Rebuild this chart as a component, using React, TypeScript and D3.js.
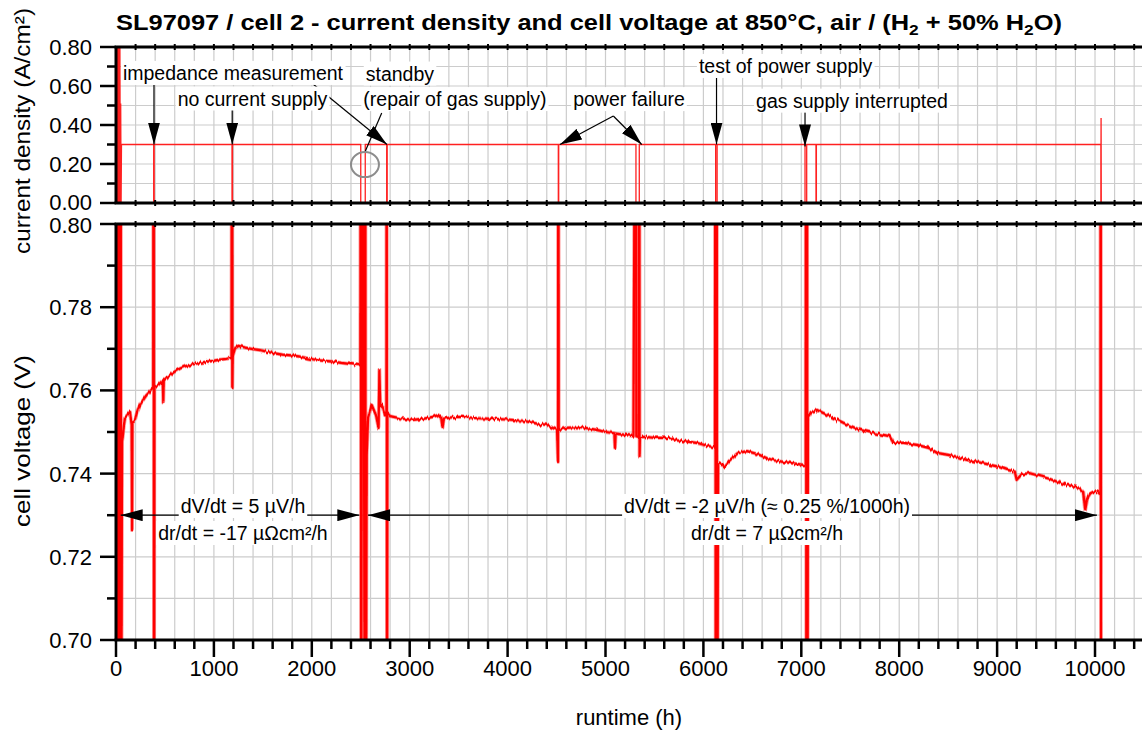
import React, { useEffect, useRef } from "react";
import * as d3 from "d3";

type Pt = [number, number];

// current density (A/cm²) against runtime (h); vertical drops are load interruptions
const currentDensity: Pt[] = [
  [14, 0], [16, 0.8], [20, 0], [24, 0.8], [28, 0], [32, 0.8], [36, 0], [40, 0.8], [44, 0], [48, 0.51], [52, 0], [56, 0.3],
  [385, 0.3], [385, 0], [390, 0], [390, 0.3],
  [1185, 0.3], [1185, 0], [1190, 0], [1190, 0.3],
  [2500, 0.3], [2500, 0], [2546, 0], [2546, 0.3],
  [2765, 0.3], [2765, 0], [2770, 0], [2770, 0.3],
  [4518, 0.3], [4518, 0], [4522, 0], [4522, 0.3],
  [5311, 0.3], [5311, 0], [5345, 0], [5345, 0.3],
  [6125, 0.3], [6125, 0], [6140, 0], [6140, 0.3],
  [7038, 0.3], [7038, 0], [7055, 0], [7055, 0.3],
  [7150, 0.3], [7150, 0], [7154, 0], [7154, 0.3],
  [10060, 0.3], [10060, 0], [10062, 0.436], [10064, 0],
];

// cell voltage (V) against runtime (h); values outside 0.70–0.80 are clipped by the panel
const cellVoltage: Pt[] = [
  [14, 0.65], [16, 0.9], [20, 0.65], [24, 0.9], [28, 0.65], [32, 0.9], [36, 0.65], [40, 0.9], [44, 0.65], [48, 0.9], [52, 0.65],
  [62, 0.748], [68, 0.7489], [80, 0.7515], [92, 0.7534], [120, 0.7542], [143, 0.7548], [160, 0.7517], [164, 0.7264], [168, 0.7525],
  [194, 0.7529], [220, 0.7552], [245, 0.7565], [280, 0.7578], [313, 0.7589], [350, 0.7598], [380, 0.7606],
  [385, 0.9], [388, 0.65], [392, 0.7608], [432, 0.7613], [478, 0.7624], [483, 0.7573], [488, 0.7624], [530, 0.7633],
  [586, 0.7643], [650, 0.7652], [722, 0.7659], [790, 0.7663], [858, 0.7666], [930, 0.7669], [994, 0.7671], [1060, 0.7674],
  [1130, 0.7676], [1180, 0.7678], [1185, 0.9], [1188, 0.7606], [1192, 0.7682], [1215, 0.7701], [1250, 0.7707],
  [1320, 0.7703], [1400, 0.7699], [1470, 0.7697], [1539, 0.7693], [1620, 0.7689], [1700, 0.7686], [1790, 0.7684],
  [1880, 0.7681], [1960, 0.7677], [2050, 0.7673], [2130, 0.7671], [2220, 0.7669], [2300, 0.7666], [2400, 0.7663],
  [2475, 0.7661], [2496, 0.766], [2500, 0.9], [2504, 0.65], [2520, 0.9], [2542, 0.65], [2546, 0.9], [2550, 0.65],
  [2561, 0.7445], [2575, 0.7535], [2612, 0.7565], [2656, 0.754], [2682, 0.751], [2690, 0.765], [2700, 0.756],
  [2717, 0.7565], [2748, 0.754], [2762, 0.7541], [2765, 0.9], [2768, 0.65], [2772, 0.7545],
  [2800, 0.7538], [2900, 0.7533], [3035, 0.7529], [3150, 0.7532], [3250, 0.7537], [3290, 0.7541], [3320, 0.7534],
  [3335, 0.751], [3350, 0.7532], [3450, 0.7536], [3545, 0.7536], [3700, 0.7533], [3890, 0.7531], [4000, 0.753],
  [4160, 0.7527], [4300, 0.752], [4400, 0.7517], [4505, 0.7505], [4515, 0.7428], [4518, 0.9], [4522, 0.7505],
  [4600, 0.751], [4740, 0.7512], [4910, 0.7505], [5000, 0.75], [5090, 0.7497], [5097, 0.7462], [5104, 0.7496],
  [5200, 0.7493], [5285, 0.749], [5311, 0.9], [5315, 0.749], [5340, 0.7488], [5345, 0.9], [5348, 0.744], [5352, 0.7488],
  [5420, 0.7488], [5500, 0.7486], [5660, 0.7486], [5730, 0.748], [5800, 0.7478], [5930, 0.7474], [6020, 0.7468],
  [6100, 0.7464], [6118, 0.7462], [6122, 0.9], [6126, 0.65], [6136, 0.9], [6140, 0.65], [6150, 0.7425],
  [6190, 0.7421], [6210, 0.7416], [6260, 0.743], [6350, 0.7449], [6445, 0.7454], [6550, 0.7447], [6650, 0.7437],
  [6720, 0.7432], [6815, 0.7428], [6900, 0.7425], [7020, 0.7421], [7045, 0.742], [7048, 0.9], [7052, 0.65],
  [7058, 0.9], [7062, 0.65], [7068, 0.7536], [7100, 0.7548], [7160, 0.7553], [7230, 0.7545], [7325, 0.7534],
  [7450, 0.752], [7600, 0.7505], [7720, 0.7498], [7835, 0.7493], [7900, 0.749], [7940, 0.7474], [8050, 0.7474],
  [8180, 0.7469], [8300, 0.7462], [8385, 0.745], [8500, 0.7445], [8600, 0.744], [8690, 0.7433], [8800, 0.7428],
  [8930, 0.7421], [9020, 0.7416], [9100, 0.7409], [9180, 0.7405], [9200, 0.7385], [9250, 0.7398], [9335, 0.7401],
  [9450, 0.7393], [9540, 0.7387], [9620, 0.738], [9710, 0.7373], [9800, 0.7368], [9845, 0.7365], [9880, 0.7355],
  [9900, 0.7312], [9920, 0.734], [9950, 0.7352], [9980, 0.7356], [10030, 0.7356], [10055, 0.735], [10058, 0.9],
  [10062, 0.65],
];

const runtimeTicks = [0, 1000, 2000, 3000, 4000, 5000, 6000, 7000, 8000, 9000, 10000];
const densityTicks = [0, 0.2, 0.4, 0.6, 0.8];
const voltageTicks = [0.7, 0.72, 0.74, 0.76, 0.78, 0.8];

const TITLE = "SL97097 / cell 2 - current density and cell voltage at 850°C, air / (H";
const FONT = "'Liberation Sans', Arial, Helvetica, sans-serif";

// event notes in the upper panel: text centre (runtime), baseline (current density)
const eventNotes = [
  { text: "impedance measurement", t: 1195, j: 0.631 },
  { text: "no current supply", t: 1394, j: 0.5 },
  { text: "standby", t: 2900, j: 0.628 },
  { text: "(repair of gas supply)", t: 3462, j: 0.497 },
  { text: "power failure", t: 5240, j: 0.497 },
  { text: "test of power supply", t: 6840, j: 0.667 },
  { text: "gas supply interrupted", t: 7518, j: 0.489 },
];

// arrows in the upper panel: from (t0, j0) to (t1, j1)
const eventArrows = [
  { t0: 388, j0: 0.605, t1: 388, j1: 0.3 },
  { t0: 1187, j0: 0.477, t1: 1187, j1: 0.3 },
  { t0: 2012, j0: 0.61, t1: 2768, j1: 0.3 },
  { t0: 5080, j0: 0.446, t1: 4535, j1: 0.3 },
  { t0: 5080, j0: 0.446, t1: 5370, j1: 0.3 },
  { t0: 6134, j0: 0.641, t1: 6134, j1: 0.3 },
  { t0: 7038, j0: 0.467, t1: 7038, j1: 0.29 },
];

// degradation ranges in the lower panel
const rateSpans = [
  { t0: 48, t1: 2485, mid: 1297, dv: "dV/dt = 5 µV/h", dr: "dr/dt = -17 µΩcm²/h" },
  { t0: 2574, t1: 10020, mid: 6650, dv: "dV/dt = -2 µV/h (≈ 0.25 %/1000h)", dr: "dr/dt = 7 µΩcm²/h" },
];

export default function App() {
  const ref = useRef<SVGSVGElement>(null);

  useEffect(() => {
    const svg = d3.select(ref.current);
    svg.selectAll("*").remove();

    const left = 116, right = 1142;
    const topY0 = 47, topY1 = 203, botY0 = 224, botY1 = 640;
    const x = d3.scaleLinear().domain([0, 10480]).range([left, right]);
    const yJ = d3.scaleLinear().domain([0, 0.8]).range([topY1, topY0]);
    const yV = d3.scaleLinear().domain([0.7, 0.8]).range([botY1, botY0]);

    const defs = svg.append("defs");
    defs.append("clipPath").attr("id", "clip-top").append("rect")
      .attr("x", left).attr("y", topY0).attr("width", right - left).attr("height", topY1 - topY0);
    defs.append("clipPath").attr("id", "clip-bot").append("rect")
      .attr("x", left).attr("y", botY0).attr("width", right - left).attr("height", botY1 - botY0);
    defs.append("marker").attr("id", "head").attr("viewBox", "0 0 22 12")
      .attr("refX", 22).attr("refY", 6).attr("markerWidth", 22).attr("markerHeight", 12)
      .attr("markerUnits", "userSpaceOnUse").attr("orient", "auto-start-reverse")
      .append("path").attr("d", "M0,0L22,6L0,12Z").attr("fill", "#000");

    // measurement jitter look for the voltage trace: vertical-only displacement
    const jitter = defs.append("filter").attr("id", "jitter")
      .attr("filterUnits", "userSpaceOnUse")
      .attr("x", left - 10).attr("y", botY0 - 10).attr("width", right - left + 20).attr("height", botY1 - botY0 + 20);
    jitter.append("feTurbulence").attr("type", "fractalNoise").attr("baseFrequency", "0.6 0.02")
      .attr("numOctaves", 2).attr("seed", 3).attr("result", "noise");
    jitter.append("feColorMatrix").attr("in", "noise").attr("type", "matrix")
      .attr("values", "0 0 0 0 0.5  0 1 0 0 0  0 0 0 0 0  0 0 0 0 1").attr("result", "map");
    jitter.append("feDisplacementMap").attr("in", "SourceGraphic").attr("in2", "map")
      .attr("scale", 5).attr("xChannelSelector", "R").attr("yChannelSelector", "G");

    // grid
    const grid = svg.append("g").attr("stroke", "#cccccc").attr("stroke-width", 1.2);
    const gridT = d3.range(200, 10480, 200);
    gridT.forEach((t) => {
      grid.append("line").attr("x1", x(t)).attr("x2", x(t)).attr("y1", topY0).attr("y2", topY1);
      grid.append("line").attr("x1", x(t)).attr("x2", x(t)).attr("y1", botY0).attr("y2", botY1);
    });
    d3.range(1, 8).forEach((k) => {
      const y = yJ(k / 10);
      grid.append("line").attr("x1", left).attr("x2", right).attr("y1", y).attr("y2", y);
    });
    d3.range(71, 80).forEach((k) => {
      const y = yV(k / 100);
      grid.append("line").attr("x1", left).attr("x2", right).attr("y1", y).attr("y2", y);
    });

    // data
    const jPath = d3.line<Pt>().x((d) => x(d[0])).y((d) => yJ(d[1]))(currentDensity);
    svg.append("path").attr("d", jPath)
      .attr("clip-path", "url(#clip-top)")
      .attr("fill", "none").attr("stroke", "#ff2020").attr("stroke-width", 1.3);
    const vPath = d3.line<Pt>().x((d) => x(d[0])).y((d) => yV(d[1]))(cellVoltage);
    const vClip = svg.append("g").attr("clip-path", "url(#clip-bot)");
    const vJit = vClip.append("g").attr("filter", "url(#jitter)");
    vJit.append("path").attr("d", vPath)
      .attr("fill", "none").attr("stroke", "#ff3030").attr("stroke-width", 3.8).attr("stroke-opacity", 0.5)
      .attr("stroke-linejoin", "round");
    vJit.append("path").attr("d", vPath)
      .attr("fill", "none").attr("stroke", "#ff0000").attr("stroke-width", 2.2)
      .attr("stroke-linejoin", "round");

    // axes frame
    const ax = svg.append("g").attr("stroke", "#000");
    [topY0, topY1, botY0, botY1].forEach((y) => {
      ax.append("line").attr("x1", left - 1.5).attr("x2", right).attr("y1", y).attr("y2", y).attr("stroke-width", 3);
    });
    ax.append("line").attr("x1", left).attr("x2", left).attr("y1", topY0).attr("y2", topY1).attr("stroke-width", 3);
    ax.append("line").attr("x1", left).attr("x2", left).attr("y1", botY0).attr("y2", botY1).attr("stroke-width", 3);

    // small marks on the horizontal frame lines
    gridT.forEach((t) => {
      [topY0, topY1, botY0].forEach((y) => {
        ax.append("line").attr("x1", x(t)).attr("x2", x(t)).attr("y1", y - 3).attr("y2", y + 3).attr("stroke-width", 2);
      });
    });

    // left ticks
    d3.range(0, 9).forEach((k) => {
      const y = yJ(k / 10);
      const major = k % 2 === 0;
      ax.append("line").attr("x1", left - (major ? 16 : 9)).attr("x2", left).attr("y1", y).attr("y2", y).attr("stroke-width", 2.5);
    });
    d3.range(70, 81).forEach((k) => {
      const y = yV(k / 100);
      const major = k % 2 === 0;
      ax.append("line").attr("x1", left - (major ? 16 : 9)).attr("x2", left).attr("y1", y).attr("y2", y).attr("stroke-width", 2.5);
    });
    // bottom ticks
    d3.range(0, 10480, 200).forEach((t) => {
      const major = t % 1000 === 0;
      ax.append("line").attr("x1", x(t)).attr("x2", x(t)).attr("y1", botY1).attr("y2", botY1 + (major ? 17 : 9)).attr("stroke-width", 2.5);
    });

    const txt = svg.append("g").attr("font-family", FONT).attr("fill", "#000");
    densityTicks.forEach((v) => {
      txt.append("text").attr("x", left - 24).attr("y", yJ(v) + (v === 0 ? 7 : 8)).attr("text-anchor", "end")
        .attr("font-size", 22).text(v.toFixed(2));
    });
    voltageTicks.forEach((v) => {
      txt.append("text").attr("x", left - 24).attr("y", yV(v) + (v === 0.8 ? 9 : 8)).attr("text-anchor", "end")
        .attr("font-size", 22).text(v.toFixed(2));
    });
    runtimeTicks.forEach((t) => {
      txt.append("text").attr("x", x(t)).attr("y", 676).attr("text-anchor", "middle")
        .attr("font-size", 22).text(String(t));
    });

    // axis titles
    txt.append("text").attr("x", 629).attr("y", 725).attr("text-anchor", "middle").attr("font-size", 22)
      .text("runtime (h)");
    txt.append("text").attr("transform", "translate(30,131) rotate(-90)").attr("text-anchor", "middle")
      .attr("font-size", 22).attr("textLength", 246).attr("lengthAdjust", "spacingAndGlyphs")
      .text("current density (A/cm²)");
    txt.append("text").attr("transform", "translate(30,441) rotate(-90)").attr("text-anchor", "middle")
      .attr("font-size", 22).attr("textLength", 172).attr("lengthAdjust", "spacingAndGlyphs")
      .text("cell voltage (V)");

    // title
    const title = txt.append("text").attr("x", 589).attr("y", 30).attr("text-anchor", "middle")
      .attr("font-size", 22).attr("font-weight", "bold")
      .attr("textLength", 946).attr("lengthAdjust", "spacingAndGlyphs");
    title.append("tspan").text(TITLE);
    title.append("tspan").attr("font-size", 15).attr("dy", 5).text("2");
    title.append("tspan").attr("dy", -5).text(" + 50% H");
    title.append("tspan").attr("font-size", 15).attr("dy", 5).text("2");
    title.append("tspan").attr("dy", -5).text("O)");

    // annotation lines
    const ann = svg.append("g").attr("stroke", "#000").attr("stroke-width", 1.2).attr("fill", "none");
    eventArrows.forEach((a) => {
      ann.append("line").attr("x1", x(a.t0)).attr("y1", yJ(a.j0)).attr("x2", x(a.t1)).attr("y2", yJ(a.j1))
        .attr("marker-end", "url(#head)");
    });
    // standby pointer and marked region
    ann.append("line").attr("x1", x(2714)).attr("y1", yJ(0.462)).attr("x2", x(2543)).attr("y2", yJ(0.262));
    ann.append("ellipse").attr("cx", x(2543)).attr("cy", yJ(0.197)).attr("rx", 14).attr("ry", 12.5)
      .attr("stroke", "#8c8c8c").attr("stroke-width", 2);

    rateSpans.forEach((s) => {
      ann.append("line").attr("x1", x(s.t0)).attr("x2", x(s.t1)).attr("y1", yV(0.73)).attr("y2", yV(0.73))
        .attr("marker-start", "url(#head)").attr("marker-end", "url(#head)");
    });

    // text with white boxes
    const boxed = (cx: number, y: number, str: string, size: number) => {
      const g = svg.append("g");
      const r = g.append("rect").attr("fill", "#fff");
      const t = g.append("text").attr("x", cx).attr("y", y).attr("text-anchor", "middle")
        .attr("font-family", FONT).attr("font-size", size).attr("fill", "#000").text(str);
      const bb = (t.node() as SVGTextElement).getBBox();
      r.attr("x", bb.x - 2).attr("y", bb.y - 1).attr("width", bb.width + 4).attr("height", bb.height + 2);
    };
    eventNotes.forEach((n) => boxed(x(n.t), yJ(n.j), n.text, 19.5));
    rateSpans.forEach((s) => {
      boxed(x(s.mid), 513, s.dv, 19.5);
      boxed(x(s.mid), 540, s.dr, 19.5);
    });
  }, []);

  return (
    <svg ref={ref} width={1142} height={731} style={{ display: "block", position: "absolute", left: 0, top: 0, background: "#fff" }} />
  );
}
